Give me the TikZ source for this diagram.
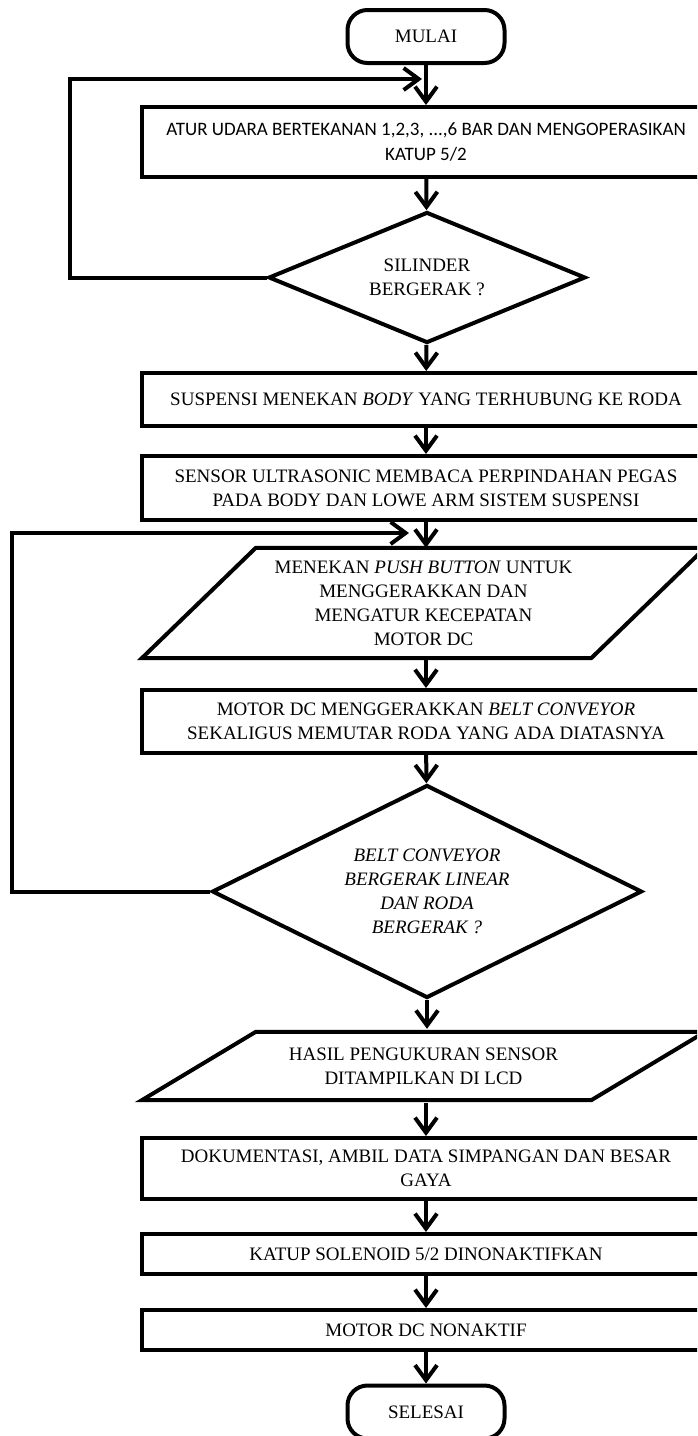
\documentclass[tikz,border=0pt]{standalone}
\usepackage{fontspec}
\setmainfont{Liberation Serif}
\newfontfamily\calibri{Carlito}
\usetikzlibrary{shapes.geometric,arrows.meta,calc}
\tikzset{
  base/.style={font=\fontsize{19}{24}\selectfont, align=center, inner sep=0pt},
  outline/.style={line width=4pt, line join=miter},
  term/.style={base, outline, draw, rounded corners=20pt, minimum width=157pt, minimum height=53pt},
  procbox/.style={base, outline, draw, minimum width=568pt},
  decision/.style={base, outline, draw, shape=diamond, aspect=2},
  ptxt/.style={base, minimum width=449pt},
  arr/.style={line width=4pt, -{Straight Barb[length=15pt,width=22pt,line width=4pt]}},
  loopline/.style={line width=4pt, line join=miter, -{Straight Barb[length=15pt,width=22pt,line width=4pt]}}
}
\begin{document}
\begin{tikzpicture}[x=1pt,y=-1pt]
\useasboundingbox (0,0) rectangle (697,1436);
\clip (0,0) rectangle (697,1436);
\fill[white] (0,0) rectangle (697,1436);

\node[term] (start) at (426,36.5) {MULAI};
\node[procbox, minimum height=70pt, font={\calibri\fontsize{19}{25}\selectfont}] (b1) at (426,142)
  {ATUR UDARA BERTEKANAN 1,2,3, ...,6 BAR DAN MENGOPERASIKAN\\KATUP 5/2};
\node[decision, minimum width=317pt, minimum height=131pt] (d1) at (427,277.5) {SILINDER\\BERGERAK ?};
\node[procbox, minimum height=53pt] (b2) at (426,399.5) {SUSPENSI MENEKAN \textit{BODY} YANG TERHUBUNG KE RODA};
\node[procbox, minimum height=64pt] (b3) at (426,488)
  {SENSOR ULTRASONIC MEMBACA PERPINDAHAN PEGAS\\PADA BODY DAN LOWE ARM SISTEM SUSPENSI};
\node[ptxt, minimum height=110pt] (p1) at (423.5,603)
  {MENEKAN \textit{PUSH BUTTON} UNTUK\\MENGGERAKKAN DAN\\MENGATUR KECEPATAN\\MOTOR DC};
\node[procbox, minimum height=63pt] (b4) at (426,721.5)
  {MOTOR DC MENGGERAKKAN \textit{BELT CONVEYOR}\\SEKALIGUS MEMUTAR RODA YANG ADA DIATASNYA};
\node[decision, minimum width=430pt, minimum height=213pt, font={\fontsize{19}{24}\selectfont\itshape}] (d2) at (427,891.5)
  {BELT CONVEYOR\\BERGERAK LINEAR\\DAN RODA\\BERGERAK ?};
\node[ptxt, minimum height=71pt] (p2) at (423.5,1066)
  {HASIL PENGUKURAN SENSOR\\DITAMPILKAN DI LCD};
\node[procbox, minimum height=61pt] (b5) at (426,1168.5)
  {DOKUMENTASI, AMBIL DATA SIMPANGAN DAN BESAR\\GAYA};
\node[procbox, minimum height=40pt] (b6) at (426,1254) {KATUP SOLENOID 5/2 DINONAKTIFKAN};
\node[procbox, minimum height=40pt] (b7) at (426,1330) {MOTOR DC NONAKTIF};
\node[term] (stop) at (426,1412) {SELESAI};

% parallelogram outlines
\draw[outline] ([xshift=57pt]p1.north west) -- ([xshift=57pt]p1.north east)
  -- ([xshift=-57pt]p1.south east) -- ([xshift=-57pt]p1.south west) -- cycle;
\draw[outline] ([xshift=57pt,yshift=-1.5pt]p2.north west) -- ([xshift=57pt,yshift=-1.5pt]p2.north east)
  -- ([xshift=-57pt,yshift=1.5pt]p2.south east) -- ([xshift=-57pt,yshift=1.5pt]p2.south west) -- cycle;

\coordinate (j1) at (422,79);
\coordinate (j2) at (409,533);

\draw[arr] (start) -- (b1);
\draw[arr] (b1) -- (d1);
\draw[arr] (d1) -- (b2);
\draw[arr] (b2) -- (b3);
\draw[arr] (b3.south) -- (b3.south |- p1.north);
\draw[arr] (b4.north |- p1.south) -- (b4.north);
\draw[arr] (b4) -- (d2);
\draw[arr] (d2.south) -- ([yshift=1.5pt]d2.south |- p2.north);
\draw[arr] ([yshift=-1.5pt]b5.north |- p2.south) -- (b5.north);
\draw[arr] (b5) -- (b6);
\draw[arr] (b6) -- (b7);
\draw[arr] (b7) -- (stop);

\draw[loopline] (d1.west) -- ++(-197,0) |- (j1);
\draw[loopline] (d2.west) -- ++(-198,0) |- (j2);
\end{tikzpicture}
\end{document}
